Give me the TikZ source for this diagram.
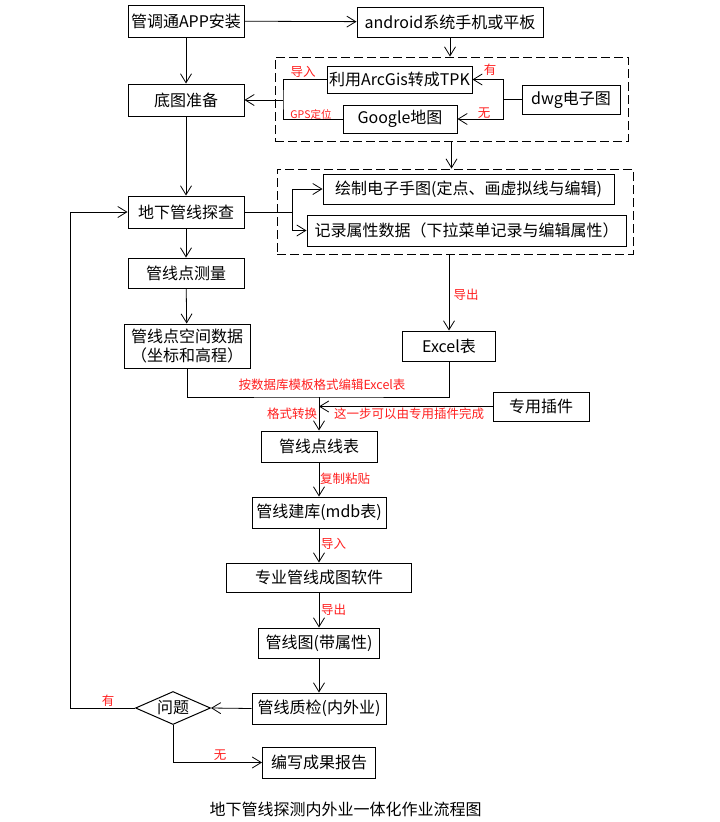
\documentclass[tikz,border=0pt]{standalone}
\usepackage{fontspec}
\setmainfont{Noto Sans CJK SC}
\usetikzlibrary{arrows.meta,shapes.geometric,positioning}
\definecolor{notered}{RGB}{255,30,30}

\begin{document}
\begin{tikzpicture}[x=1pt,y=-1pt,
    box/.style={draw, line width=1pt, inner sep=1pt, font=\fontsize{16}{19}\selectfont},
    grpbox/.style={draw, line width=0.9pt, dash pattern=on 9pt off 4pt},
    link/.style={line width=0.8pt},
    arr/.style={link, -{Straight Barb[length=9pt,width=11pt]}},
    note/.style={text=notered, font=\fontsize{12.5}{14}\selectfont, inner sep=1pt}]
    \useasboundingbox (0,0) rectangle (720,822);
    % top row
    \node[box, minimum width=116, minimum height=32] (app) at (186,21) {管调通APP安装};
    \node[box, minimum width=186, minimum height=30] (dev) at (450,22) {android系统手机或平板};
    % base map group
    \node[grpbox, minimum width=353, minimum height=84] (grp1) at (451.5,99) {};
    \node[box, minimum width=145, minimum height=27] (tpk) at (399.5,79.5) {利用ArcGis转成TPK};
    \node[box, minimum width=114, minimum height=28] (gmap) at (400,119) {Google地图};
    \node[box, minimum width=98, minimum height=29] (dwg) at (571,99.5) {dwg电子图};
    \node[box, minimum width=116, minimum height=32] (base) at (186,100) {底图准备};
    \coordinate (dwgj) at (503,99.5);
    \coordinate (basej) at (283,100);
    % field survey group
    \node[grpbox, minimum width=356, minimum height=85] (grp2) at (455,211.5) {};
    \node[box, minimum width=291, minimum height=30] (sketch) at (468.5,189) {绘制电子手图(定点、画虚拟线与编辑)};
    \node[box, minimum width=319, minimum height=31] (record) at (466.5,230.5) {记录属性数据（下拉菜单记录与编辑属性）};
    \node[box, minimum width=116, minimum height=32] (survey) at (186,212) {地下管线探查};
    \coordinate (survj) at (292,212);
    \node[box, minimum width=116, minimum height=30] (measure) at (186,273) {管线点测量};
    \node[box, align=center, minimum width=126, minimum height=44] (spdata) at (187,346) {管线点空间数据\\（坐标和高程）};
    \node[box, minimum width=93, minimum height=30] (excel) at (449,346) {Excel表};
    \node[box, minimum width=96, minimum height=29] (plugin) at (541,406.5) {专用插件};
    \coordinate (mergej) at (319,397);
    % processing chain
    \node[box, minimum width=116, minimum height=31] (table) at (319,446.5) {管线点线表};
    \node[box, minimum width=134, minimum height=31] (db) at (319,512.5) {管线建库(mdb表)};
    \node[box, minimum width=185, minimum height=29] (soft) at (319,577.5) {专业管线成图软件};
    \node[box, minimum width=121, minimum height=30] (pmap) at (319,643) {管线图(带属性)};
    \node[box, minimum width=134, minimum height=31] (qc) at (319,708.5) {管线质检(内外业)};
    \node[box, diamond, aspect=2.3, inner sep=0pt, minimum width=75, minimum height=33] (issue) at (173,708) {问题};
    \coordinate (loopx) at (70,708);
    \node[box, minimum width=113, minimum height=31] (report) at (319,762.5) {编写成果报告};
    \node[font=\fontsize{16}{18}\selectfont] (title) at (345.5,809) {地下管线探测内外业一体化作业流程图};

    % connectors
    \draw[arr] (app) -- (dev);
    \draw[arr] (app) -- (base);
    \draw[arr] (dev.south) -- (dev.south |- grp1.north);
    \draw[link] (dwg.west) -- (dwgj);
    \draw[arr] (dwgj) |- (tpk.east);
    \draw[arr] (dwgj) |- (gmap.east);
    \draw[link] (tpk.west) -| (basej) |- (gmap.west);
    \draw[arr] (basej) -- (base.east);
    \draw[arr] (grp1.south) -- (grp1.south |- grp2.north);
    \draw[arr] (base) -- (survey);
    \draw[link] (survey.east) -- (survj);
    \draw[arr] (survj) |- (sketch.west);
    \draw[arr] (survj) |- (record.west);
    \draw[arr] (excel.north |- grp2.south) -- (excel.north);
    \draw[arr] (survey) -- (measure);
    \draw[arr] (measure) -- (spdata);
    \draw[link] (spdata.south) |- (mergej) -| (excel.south);
    \draw[arr] (mergej) -- (table.north);
    \draw[arr] (plugin.west) -- (plugin.west -| mergej);
    \draw[arr] (table) -- (db);
    \draw[arr] (db) -- (soft);
    \draw[arr] (soft) -- (pmap);
    \draw[arr] (pmap) -- (qc);
    \draw[arr] (qc.west) -- (issue.east);
    \draw[arr] (issue.west) -- (loopx) |- (survey.west);
    \draw[arr] (issue.south) |- (report.west);

    % red notes
    \node[note] (nimp) at (303,72) {导入};
    \node[note, font=\fontsize{10.5}{12}\selectfont] (ngps) at (311,114) {GPS定位};
    \node[note] (nyes) at (490,70) {有};
    \node[note] (nno) at (484,113) {无};
    \node[note] (nexp) at (466,295) {导出};
    \node[note] (nedit) at (322,385) {按数据库模板格式编辑Excel表};
    \node[note] (nconv) at (292,414) {格式转换};
    \node[note] (nplug) at (409,414) {这一步可以由专用插件完成};
    \node[note, anchor=west] (ncopy) at (319,479) {复制粘贴};
    \node[note, anchor=west] (nimp2) at (320,544) {导入};
    \node[note, anchor=west] (nexp2) at (320,610) {导出};
    \node[note] (nyes2) at (108,701) {有};
    \node[note] (nno2) at (220,755) {无};
\end{tikzpicture}
\end{document}
